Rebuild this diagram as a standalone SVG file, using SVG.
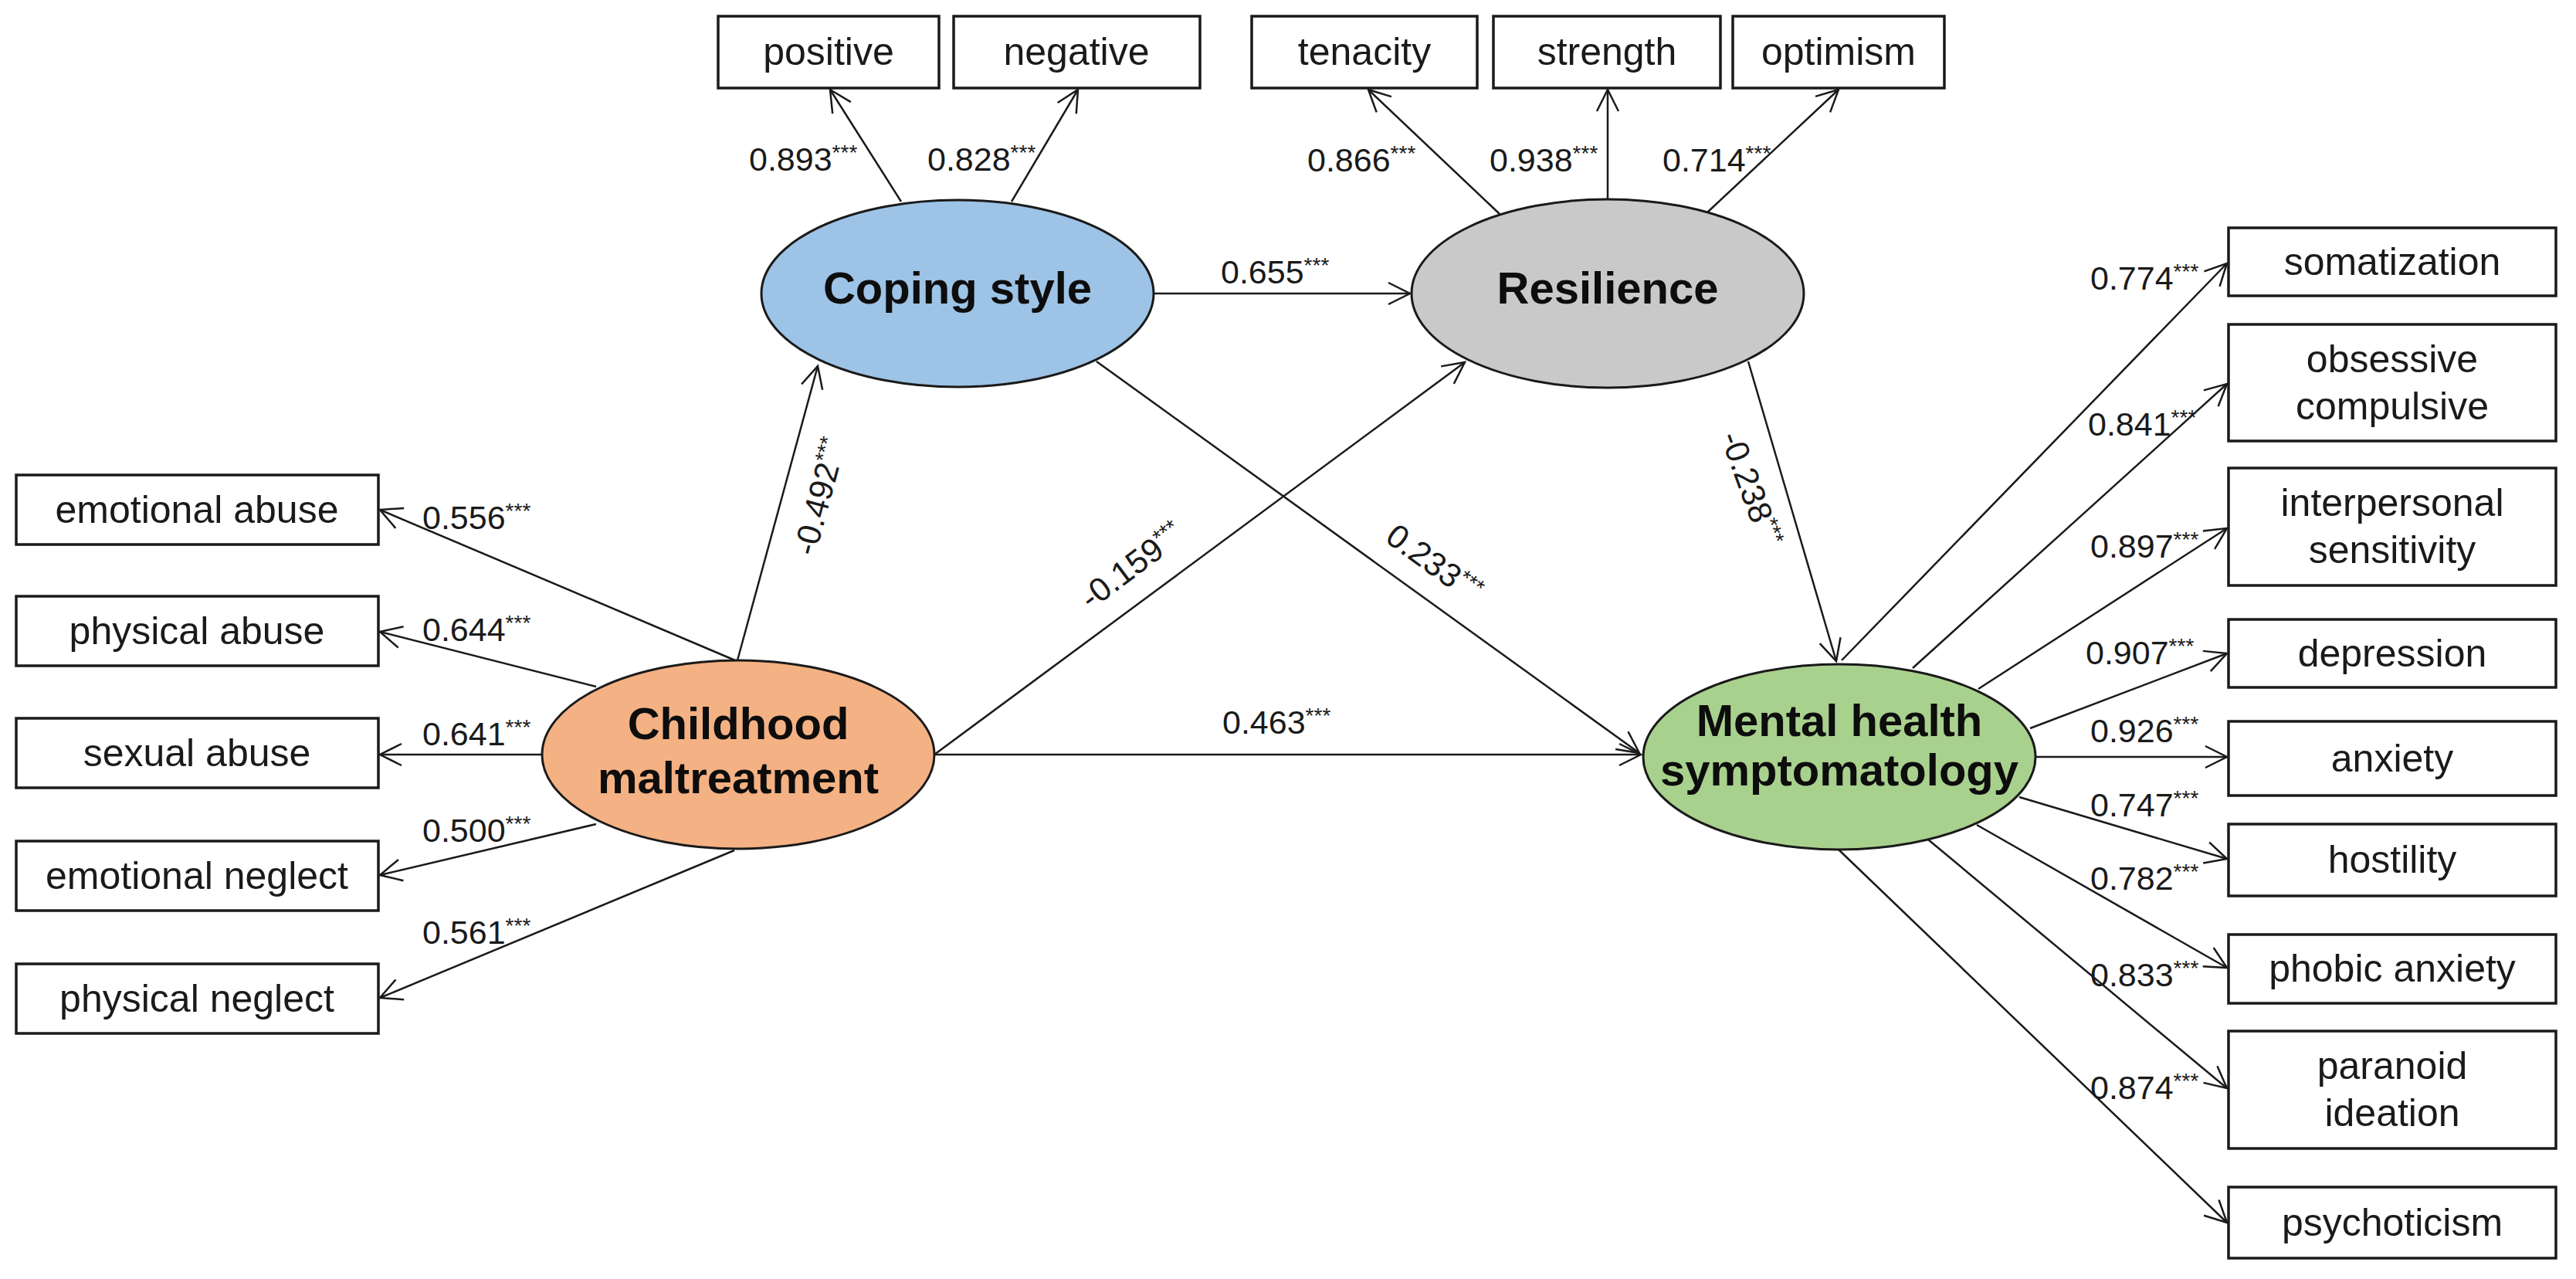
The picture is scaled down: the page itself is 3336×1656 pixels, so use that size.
<svg xmlns="http://www.w3.org/2000/svg" width="3336" height="1656" viewBox="0 0 3336 1656">
<style>
text{font-family:"Liberation Sans",Arial,sans-serif;fill:#1a1a1a}
.box{fill:#fff;stroke:#1a1a1a;stroke-width:3.5}
.bt{font-size:50px;text-anchor:middle}
.lt{font-size:58px;font-weight:bold;text-anchor:middle;fill:#0d0d0d}
.ell{stroke:#1a1a1a;stroke-width:3}
.num{font-size:43px}
.st{font-size:28px}
.c line{stroke:#1a1a1a;stroke-width:2.5;marker-end:url(#ah)}
</style>
<defs>
<marker id="ah" markerUnits="userSpaceOnUse" markerWidth="34" markerHeight="34" refX="29" refY="15" orient="auto" viewBox="0 0 34 30">
<path d="M1,1 L29,15 L1,29" fill="none" stroke="#1a1a1a" stroke-width="2.5"/>
</marker>
</defs>
<rect width="3336" height="1656" fill="#fff"/>

<g class="c" id="connectors">
<line x1="1167" y1="261" x2="1075" y2="116"/>
<line x1="1310" y1="261" x2="1396" y2="116"/>
<line x1="1942" y1="277" x2="1772" y2="116"/>
<line x1="2082" y1="258" x2="2082" y2="116"/>
<line x1="2211" y1="275" x2="2381" y2="116"/>
<line x1="1494" y1="380" x2="1826" y2="380"/>
<line x1="955" y1="855" x2="1059" y2="474"/>
<line x1="1210" y1="977" x2="1897" y2="469"/>
<line x1="1420" y1="468" x2="2123" y2="975"/>
<line x1="1210" y1="977" x2="2125" y2="977"/>
<line x1="2264" y1="468" x2="2378" y2="856"/>
<line x1="952" y1="855" x2="492" y2="660"/>
<line x1="772" y1="889" x2="492" y2="818"/>
<line x1="702" y1="977" x2="492" y2="977"/>
<line x1="772" y1="1067" x2="492" y2="1133"/>
<line x1="951" y1="1101" x2="492" y2="1292"/>
<line x1="2385" y1="855" x2="2884" y2="341"/>
<line x1="2477" y1="865" x2="2884" y2="497"/>
<line x1="2562" y1="892" x2="2884" y2="684"/>
<line x1="2629" y1="943" x2="2884" y2="846"/>
<line x1="2636" y1="980" x2="2884" y2="980"/>
<line x1="2615" y1="1032" x2="2884" y2="1112"/>
<line x1="2560" y1="1068" x2="2884" y2="1253"/>
<line x1="2497" y1="1087" x2="2884" y2="1409"/>
<line x1="2381" y1="1100" x2="2884" y2="1583"/>
</g>

<g id="labels">
<text class="num" x="970" y="221">0.893<tspan class="st" dy="-14">***</tspan></text>
<text class="num" x="1201" y="221">0.828<tspan class="st" dy="-14">***</tspan></text>
<text class="num" x="1693" y="222">0.866<tspan class="st" dy="-14">***</tspan></text>
<text class="num" x="1929" y="222">0.938<tspan class="st" dy="-14">***</tspan></text>
<text class="num" x="2153" y="222">0.714<tspan class="st" dy="-14">***</tspan></text>
<text class="num" x="1581" y="367">0.655<tspan class="st" dy="-14">***</tspan></text>
<text class="num" x="1583" y="950">0.463<tspan class="st" dy="-14">***</tspan></text>
<text class="num" text-anchor="middle" transform="translate(1062,643) rotate(-75)" y="14">-0.492<tspan class="st" dy="-14">***</tspan></text>
<text class="num" text-anchor="middle" transform="translate(1466,733) rotate(-37)" y="14">-0.159<tspan class="st" dy="-14">***</tspan></text>
<text class="num" text-anchor="middle" transform="translate(1857,730) rotate(36)" y="14">0.233<tspan class="st" dy="-14">***</tspan></text>
<text class="num" text-anchor="middle" transform="translate(2267,633) rotate(70)" y="14">-0.238<tspan class="st" dy="-14">***</tspan></text>
<text class="num" x="547" y="685">0.556<tspan class="st" dy="-14">***</tspan></text>
<text class="num" x="547" y="830">0.644<tspan class="st" dy="-14">***</tspan></text>
<text class="num" x="547" y="965">0.641<tspan class="st" dy="-14">***</tspan></text>
<text class="num" x="547" y="1090">0.500<tspan class="st" dy="-14">***</tspan></text>
<text class="num" x="547" y="1222">0.561<tspan class="st" dy="-14">***</tspan></text>
<text class="num" x="2707" y="375">0.774<tspan class="st" dy="-14">***</tspan></text>
<text class="num" x="2704" y="564">0.841<tspan class="st" dy="-14">***</tspan></text>
<text class="num" x="2707" y="722">0.897<tspan class="st" dy="-14">***</tspan></text>
<text class="num" x="2701" y="860">0.907<tspan class="st" dy="-14">***</tspan></text>
<text class="num" x="2707" y="961">0.926<tspan class="st" dy="-14">***</tspan></text>
<text class="num" x="2707" y="1057">0.747<tspan class="st" dy="-14">***</tspan></text>
<text class="num" x="2707" y="1152">0.782<tspan class="st" dy="-14">***</tspan></text>
<text class="num" x="2707" y="1277">0.833<tspan class="st" dy="-14">***</tspan></text>
<text class="num" x="2707" y="1423">0.874<tspan class="st" dy="-14">***</tspan></text>
</g>

<g id="coping"><ellipse class="ell" cx="1240" cy="380" rx="254" ry="121" fill="#9DC3E6"/><text class="lt" x="1240" y="393">Coping style</text></g>
<g id="resilience"><ellipse class="ell" cx="2082" cy="380" rx="254" ry="122" fill="#C9C9C9"/><text class="lt" x="2082" y="393">Resilience</text></g>
<g id="childhood"><ellipse class="ell" cx="956" cy="977" rx="254" ry="122" fill="#F4B183"/><text class="lt" x="956" y="957">Childhood</text><text class="lt" x="956" y="1027">maltreatment</text></g>
<g id="mental"><ellipse class="ell" cx="2382" cy="980" rx="254" ry="120" fill="#A9D18E"/><text class="lt" x="2382" y="953">Mental health</text><text class="lt" x="2382" y="1017">symptomatology</text></g>

<g id="positive"><rect class="box" x="930" y="21" width="286" height="93"/><text class="bt" x="1073" y="84">positive</text></g>
<g id="negative"><rect class="box" x="1235" y="21" width="319" height="93"/><text class="bt" x="1394" y="84">negative</text></g>
<g id="tenacity"><rect class="box" x="1621" y="21" width="292" height="93"/><text class="bt" x="1767" y="84">tenacity</text></g>
<g id="strength"><rect class="box" x="1934" y="21" width="294" height="93"/><text class="bt" x="2081" y="84">strength</text></g>
<g id="optimism"><rect class="box" x="2244" y="21" width="274" height="93"/><text class="bt" x="2381" y="84">optimism</text></g>

<g id="emotional-abuse"><rect class="box" x="21" y="615" width="469" height="90"/><text class="bt" x="255" y="677">emotional abuse</text></g>
<g id="physical-abuse"><rect class="box" x="21" y="772" width="469" height="90"/><text class="bt" x="255" y="834">physical abuse</text></g>
<g id="sexual-abuse"><rect class="box" x="21" y="930" width="469" height="90"/><text class="bt" x="255" y="992">sexual abuse</text></g>
<g id="emotional-neglect"><rect class="box" x="21" y="1089" width="469" height="90"/><text class="bt" x="255" y="1151">emotional neglect</text></g>
<g id="physical-neglect"><rect class="box" x="21" y="1248" width="469" height="90"/><text class="bt" x="255" y="1310">physical neglect</text></g>

<g id="somatization"><rect class="box" x="2886" y="295" width="424" height="88"/><text class="bt" x="3098" y="356">somatization</text></g>
<g id="obsessive"><rect class="box" x="2886" y="420" width="424" height="151"/><text class="bt" x="3098" y="482">obsessive</text><text class="bt" x="3098" y="543">compulsive</text></g>
<g id="interpersonal"><rect class="box" x="2886" y="606" width="424" height="152"/><text class="bt" x="3098" y="668">interpersonal</text><text class="bt" x="3098" y="729">sensitivity</text></g>
<g id="depression"><rect class="box" x="2886" y="802" width="424" height="88"/><text class="bt" x="3098" y="863">depression</text></g>
<g id="anxiety"><rect class="box" x="2886" y="934" width="424" height="96"/><text class="bt" x="3098" y="999">anxiety</text></g>
<g id="hostility"><rect class="box" x="2886" y="1067" width="424" height="93"/><text class="bt" x="3098" y="1130">hostility</text></g>
<g id="phobic"><rect class="box" x="2886" y="1210" width="424" height="89"/><text class="bt" x="3098" y="1271">phobic anxiety</text></g>
<g id="paranoid"><rect class="box" x="2886" y="1335" width="424" height="152"/><text class="bt" x="3098" y="1397">paranoid</text><text class="bt" x="3098" y="1458">ideation</text></g>
<g id="psychoticism"><rect class="box" x="2886" y="1537" width="424" height="92"/><text class="bt" x="3098" y="1600">psychoticism</text></g>
</svg>
